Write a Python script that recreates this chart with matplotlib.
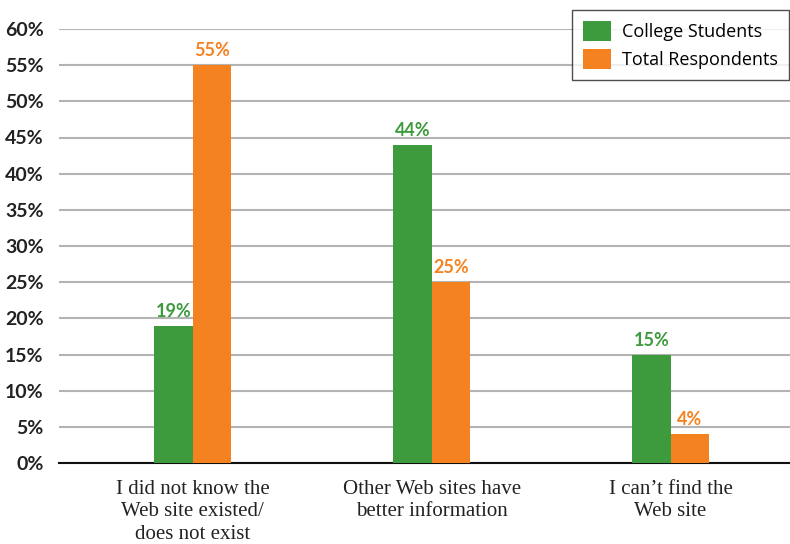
import matplotlib.pyplot as plt
import numpy as np

categories = ["I did not know the\nWeb site existed/\ndoes not exist",
              "Other Web sites have\nbetter information",
              "I can\u2019t find the\nWeb site"]
college = [19, 44, 15]
total = [55, 25, 4]
yticks = [0, 5, 10, 15, 20, 25, 30, 35, 40, 45, 50, 55, 60]

green = '#3d9a3d'
orange = '#f58220'

fig = plt.figure(figsize=(7.9, 5.44), dpi=100)
ax = fig.add_axes([59/790, 1 - 463/544, 1 - 59/790, (463 - 29)/544])

x = np.arange(len(categories))
w = 0.161
ax.bar(x - w/2, college, w, color=green, label='College Students', zorder=3)
ax.bar(x + w/2, total, w, color=orange, label='Total Respondents', zorder=3)

for xi, v in zip(x, college):
    ax.text(xi - w/2, v + 0.8, f'{v}%', ha='center', va='bottom', color=green,
            fontsize=13, fontweight='bold', family='Lato')
for xi, v in zip(x, total):
    ax.text(xi + w/2, v + 0.8, f'{v}%', ha='center', va='bottom', color=orange,
            fontsize=13, fontweight='bold', family='Lato')

ax.set_xlim(-0.56, 2.5)
ax.set_ylim(0, 60)
ax.set_yticks(yticks)
ax.set_yticklabels([f'{t}%' for t in yticks], fontsize=14, fontweight='bold',
                   family='Lato', color='#222222')
ax.yaxis.grid(True, color='#b3b3b3', linewidth=1.5, zorder=0)
ax.set_axisbelow(True)
ax.tick_params(axis='y', length=0, pad=11)
ax.tick_params(axis='x', length=0, pad=12)
ax.set_xticks(x)
ax.set_xticklabels(categories, fontsize=15, family='Liberation Serif',
                   color='#222222', linespacing=1.25)
for s in ['top', 'right', 'left']:
    ax.spines[s].set_visible(False)
ax.spines['bottom'].set_color('#111111')
ax.spines['bottom'].set_linewidth(1.5)

leg = ax.legend(loc='upper right', bbox_to_anchor=(789/790, 1 - 10/544),
                bbox_transform=fig.transFigure, borderaxespad=0, frameon=True,
                fancybox=False, prop={'family': 'Open Sans', 'size': 13},
                handlelength=1.6, handleheight=1.3, handletextpad=0.6,
                borderpad=0.6, labelspacing=0.45)
leg.get_frame().set_edgecolor('#222222')
leg.get_frame().set_linewidth(1.0)

fig.savefig('out.png', dpi=100)
